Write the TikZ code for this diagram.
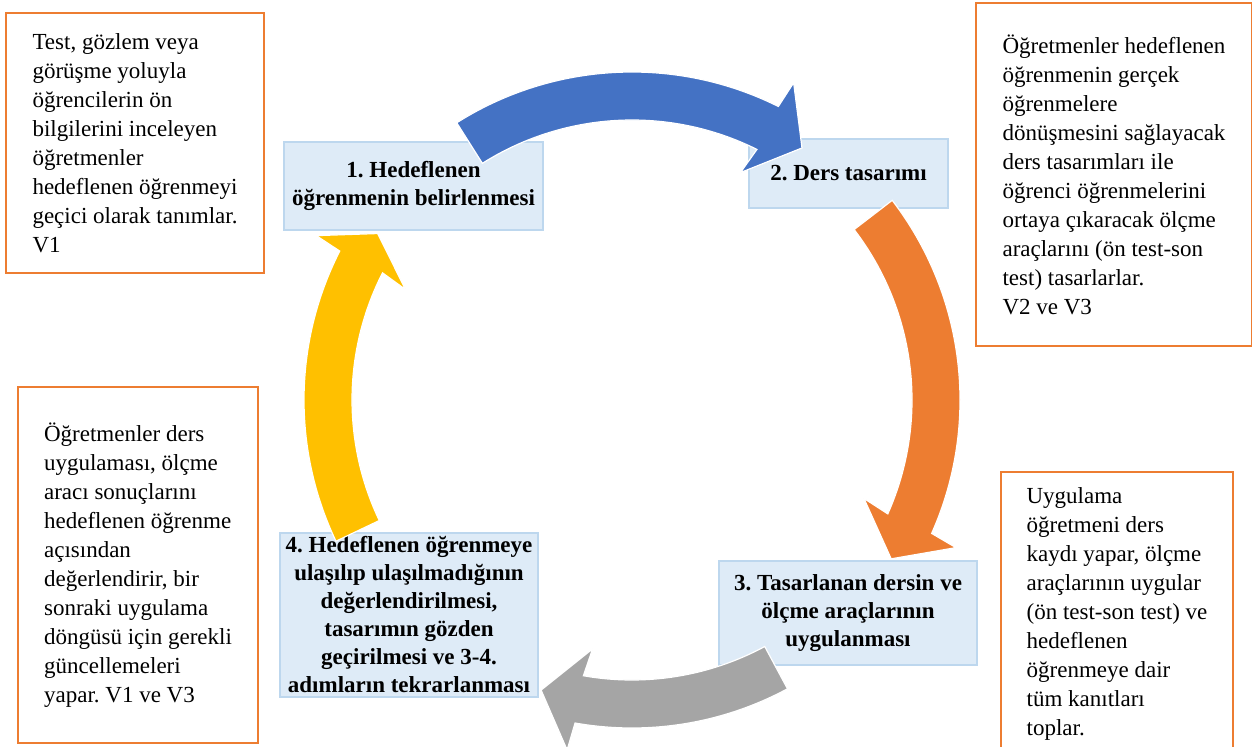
\documentclass[tikz,border=0pt]{standalone}
\usepackage{fontspec}
\setmainfont{Liberation Serif}
\frenchspacing

\definecolor{cycblue}{HTML}{4472C4}
\definecolor{cycorange}{HTML}{ED7D31}
\definecolor{cycgray}{HTML}{A5A5A5}
\definecolor{cycyellow}{HTML}{FFC000}
\definecolor{stagefill}{HTML}{DEEBF7}
\definecolor{stageline}{HTML}{BDD7EE}

% curved cycle arrow: colour, tail angle, head base angle, tip angle
\newcommand{\cyclearrow}[4]{%
  \fill[#1,draw=white,line width=0.6pt]
    (#2:164pt) arc[start angle=#2,end angle=#3,radius=164pt]
    -- ({#3-0.5}:178pt) -- (#4:152pt) -- ({#3+1}:126pt)
    -- (#3:140pt) arc[start angle=#3,end angle=#2,radius=140pt] -- cycle;}

\begin{document}
\begin{tikzpicture}
[x=0.5pt,y=-0.5pt,
 every node/.style={font=\fontsize{11.5}{14.5}\selectfont,inner sep=0pt},
 note/.style={draw=cycorange,line width=1.25pt,align=left},
 stage/.style={fill=stagefill,draw=stageline,line width=0.75pt,align=center,
               font=\fontsize{11.5}{14}\selectfont\bfseries}]
\useasboundingbox (0,0) rectangle (1252,747);

\node[note,minimum width=129pt,minimum height=130pt] (noteV1) at (135,143)
  {Test, gözlem veya\\görüşme yoluyla\\öğrencilerin ön\\bilgilerini inceleyen\\öğretmenler\\hedeflenen öğrenmeyi\\geçici olarak tanımlar.\\V1};
\node[note,minimum width=138pt,minimum height=171.5pt] (noteV2) at (1114,174.5)
  {Öğretmenler hedeflenen\\öğrenmenin gerçek\\öğrenmelere\\dönüşmesini sağlayacak\\ders tasarımları ile\\öğrenci öğrenmelerini\\ortaya çıkaracak ölçme\\araçlarını (ön test-son\\test) tasarlarlar.\\V2 ve V3};
\node[note,minimum width=120pt,minimum height=178pt] (noteV3) at (138,565)
  {Öğretmenler ders\\uygulaması, ölçme\\aracı sonuçlarını\\hedeflenen öğrenme\\açısından\\değerlendirir, bir\\sonraki uygulama\\döngüsü için gerekli\\güncellemeleri\\yapar. V1 ve V3};
\node[note,minimum width=116pt,minimum height=141.5pt] (noteUy) at (1117,613.5)
  {Uygulama\\öğretmeni ders\\kaydı yapar, ölçme\\araçlarının uygular\\(ön test-son test) ve\\hedeflenen\\öğrenmeye dair\\tüm kanıtları\\toplar.};

\node[stage,minimum width=129.5pt,minimum height=44pt] (step1) at (413.5,186)
  {1. Hedeflenen\\öğrenmenin belirlenmesi};
\node[stage,minimum width=99.5pt,minimum height=34.5pt] (step2) at (848.5,173.5)
  {2. Ders tasarımı};
\node[stage,minimum width=129pt,minimum height=52pt] (step3) at (848,613)
  {3. Tasarlanan dersin ve\\ölçme araçlarının\\uygulanması};
\node[stage,minimum width=129pt,minimum height=82pt] (step4) at (409,615)
  {4. Hedeflenen öğrenmeye\\ulaşılıp ulaşılmadığının\\değerlendirilmesi,\\tasarımın gözden\\geçirilmesi ve 3-4.\\adımların tekrarlanması};

% arrows round the cycle
\coordinate (hub) at (632,400);
\begin{scope}[shift={(hub)}]
\cyclearrow{cycblue}{122.3}{63.5}{56}
\cyclearrow{cycorange}{37.5}{-24}{-31.5}
\cyclearrow{cycgray}{-61.7}{-100}{-107.4}
\cyclearrow{cycyellow}{205.5}{153}{146.8}
\end{scope}
\end{tikzpicture}
\end{document}
